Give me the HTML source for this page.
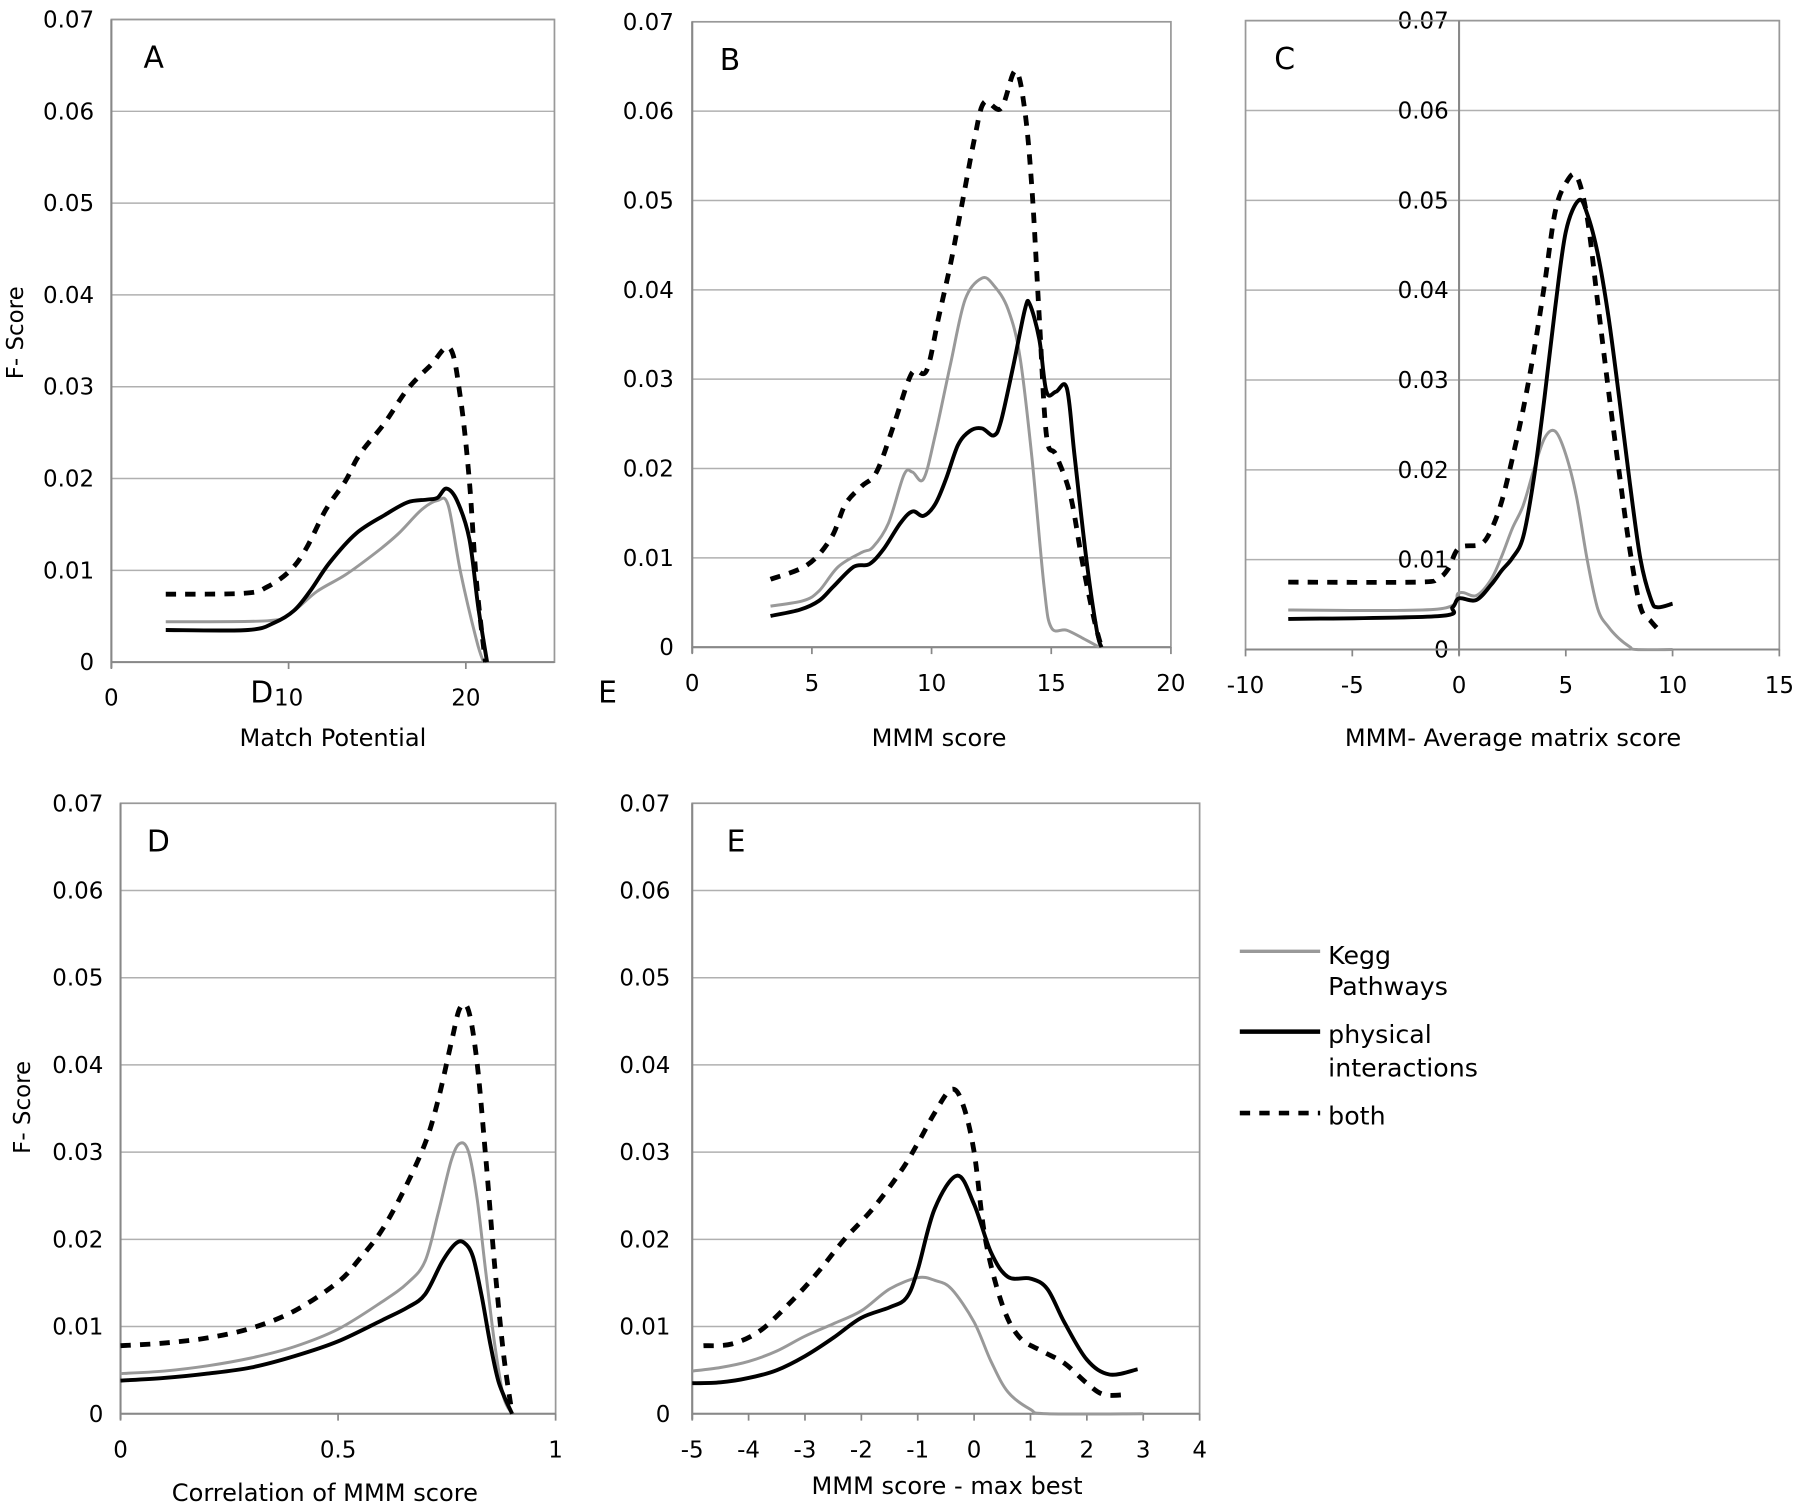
<!DOCTYPE html>
<html><head><meta charset="utf-8"><style>
html,body{margin:0;padding:0;background:#fff;}
svg{display:block;font-family:"DejaVu Sans","Liberation Sans",sans-serif;}
</style></head><body>
<svg id="fig" width="1800" height="1509" viewBox="0 0 1568 1315" preserveAspectRatio="none" xmlns="http://www.w3.org/2000/svg">
<rect width="1568" height="1315" fill="#fff"/>
<g>
<line x1="1080" y1="829" x2="1150" y2="829" stroke="#999" stroke-width="3"/>
<text x="1157" y="840" font-size="22">Kegg</text>
<text x="1157" y="867" font-size="22">Pathways</text>
<line x1="1080" y1="899" x2="1150" y2="899" stroke="#000" stroke-width="4"/>
<text x="1157" y="909" font-size="22">physical</text>
<text x="1157" y="938" font-size="22">interactions</text>
<line x1="1080" y1="970" x2="1150" y2="970" stroke="#000" stroke-width="4" stroke-dasharray="9 8"/>
<text x="1157" y="980" font-size="22">both</text>
</g>
<text x="218" y="612" font-size="26">D</text>
<text x="521" y="612" font-size="26">E</text>
</svg>
<script>
// ---- data ----
const yTicks = [0,0.01,0.02,0.03,0.04,0.05,0.06,0.07];
const yTickLabels = ["0","0.01","0.02","0.03","0.04","0.05","0.06","0.07"];

const aXTicks = [0,10,20];
const aGrayX = [3.07,8.8,10.1,11.6,13.2,14.9,16.2,17.5,18.4,19.0,19.7,20.6,21.0];
const aGrayY = [0.0044,0.0045,0.0053,0.0077,0.0095,0.0119,0.014,0.0166,0.0176,0.0171,0.0098,0.0024,0];
const aBlackX = [3.07,7.7,9.2,10.3,11.2,12.3,13.8,15.4,16.7,17.8,18.4,18.9,19.5,20.2,20.7,21.2];
const aBlackY = [0.0035,0.0035,0.0043,0.0056,0.0077,0.0108,0.014,0.016,0.0174,0.0177,0.0179,0.0189,0.0176,0.0134,0.006,0];
const aBothX = [3.07,7.5,8.8,10.1,11.0,12.1,13.2,14.0,15.4,16.7,18.0,19.1,19.7,20.2,20.6,21.1];
const aBothY = [0.0074,0.0075,0.0082,0.010,0.0124,0.0166,0.0197,0.0226,0.026,0.0297,0.0323,0.0342,0.0287,0.0197,0.0087,0];

const bXTicks = [0,5,10,15,20];
const bGrayX = [3.27,4.64,5.3,6.1,7.07,7.55,8.2,8.85,9.2,9.66,10.15,10.8,11.4,12.1,12.6,13.2,13.7,14.2,14.7,15.0,15.65,16.46,17.0];
const bGrayY = [0.0046,0.0052,0.0063,0.009,0.0106,0.0112,0.0139,0.0193,0.0196,0.0188,0.0237,0.0318,0.0389,0.0413,0.0405,0.0378,0.0324,0.021,0.0068,0.0022,0.0019,0.0008,0];
const bBlackX = [3.27,4.5,5.3,5.9,6.75,7.4,8.0,8.7,9.2,9.66,10.15,10.6,11.1,11.6,12.1,12.6,12.9,13.4,13.9,14.1,14.5,14.8,15.2,15.65,15.97,16.46,16.9,17.1];
const bBlackY = [0.0035,0.0042,0.0052,0.0068,0.009,0.0093,0.011,0.0139,0.0152,0.0147,0.016,0.0188,0.0226,0.0242,0.0245,0.0237,0.0253,0.0313,0.0378,0.0384,0.0345,0.0286,0.0286,0.029,0.0215,0.010,0.0019,0];
const bBothX = [3.27,4.8,5.8,6.4,7.07,7.7,8.4,9.0,9.3,9.8,10.3,10.8,11.3,11.8,12.2,12.9,13.5,13.9,14.2,14.5,14.8,15.2,15.8,16.3,16.8,17.1];
const bBothY = [0.0076,0.0092,0.0122,0.016,0.018,0.0196,0.0247,0.0296,0.031,0.031,0.037,0.043,0.050,0.057,0.061,0.0603,0.0645,0.060,0.051,0.037,0.0237,0.0215,0.017,0.0095,0.003,0];

const cXTicks = [-10,-5,0,5,10,15];
const cGrayX = [-8,-1,0,0.8,1.5,2,2.5,3,3.5,4,4.5,5,5.5,6,6.5,7,7.5,8,8.3,10];
const cGrayY = [0.0044,0.0045,0.0063,0.006,0.0078,0.0104,0.0135,0.016,0.020,0.0235,0.0243,0.0217,0.017,0.010,0.0045,0.0025,0.0012,0.0003,0,0];
const cBlackX = [-8,-1,-0.3,0,0.8,1.5,2,2.5,3,3.5,4,4.5,5,5.6,6,6.5,7,7.5,8,8.5,9,9.3,10];
const cBlackY = [0.0034,0.0037,0.0047,0.0057,0.0055,0.0072,0.0088,0.0102,0.0125,0.019,0.028,0.038,0.0465,0.050,0.0485,0.044,0.037,0.028,0.0185,0.010,0.0055,0.0047,0.0051];
const cBothX = [-8,-2,-1,-0.5,0,1,1.5,2,2.5,3,3.5,4,4.5,5,5.5,6,6.5,7,7.5,8,8.5,9,9.5];
const cBothY = [0.0075,0.0075,0.0079,0.009,0.0113,0.0117,0.0133,0.0165,0.0213,0.0267,0.0331,0.0406,0.0487,0.0519,0.0527,0.0481,0.0385,0.0288,0.0197,0.0111,0.0047,0.0031,0.0018];

const dXTicks = [0,0.5,1];
const dGrayX = [0,0.1,0.2,0.3,0.4,0.5,0.6,0.66,0.7,0.73,0.76,0.78,0.8,0.82,0.84,0.86,0.88,0.9];
const dGrayY = [0.0046,0.0049,0.0055,0.0064,0.0077,0.0097,0.0128,0.015,0.0175,0.023,0.029,0.031,0.030,0.0245,0.016,0.008,0.002,0];
const dBlackX = [0,0.1,0.2,0.3,0.4,0.5,0.6,0.66,0.7,0.74,0.77,0.79,0.81,0.83,0.85,0.87,0.9];
const dBlackY = [0.0038,0.0041,0.0046,0.0053,0.0066,0.0083,0.0107,0.0122,0.0137,0.0175,0.0195,0.0196,0.018,0.0135,0.008,0.0035,0];
const dBothX = [0,0.1,0.2,0.3,0.4,0.5,0.55,0.6,0.65,0.7,0.73,0.76,0.78,0.8,0.82,0.84,0.86,0.88,0.9];
const dBothY = [0.0078,0.0081,0.0087,0.0098,0.0118,0.0151,0.0178,0.021,0.0255,0.031,0.036,0.0425,0.0465,0.0462,0.040,0.029,0.017,0.007,0];

const eXTicks = [-5,-4,-3,-2,-1,0,1,2,3,4];
const eGrayX = [-5,-4.5,-4,-3.5,-3,-2.5,-2,-1.5,-1,-0.7,-0.4,0,0.3,0.6,1,1.3,3];
const eGrayY = [0.0049,0.0053,0.006,0.0072,0.0089,0.0103,0.0118,0.0143,0.0156,0.0153,0.0143,0.0105,0.006,0.0025,0.0005,0,0];
const eBlackX = [-5,-4.5,-4,-3.5,-3,-2.5,-2,-1.5,-1.2,-1,-0.7,-0.3,0,0.3,0.6,1,1.3,1.6,2,2.4,2.9];
const eBlackY = [0.0035,0.0036,0.0041,0.005,0.0066,0.0087,0.011,0.0122,0.0133,0.0165,0.0235,0.0273,0.024,0.0185,0.0157,0.0155,0.0143,0.0105,0.0062,0.0045,0.0051];
const eBothX = [-4.8,-4.3,-3.8,-3.3,-2.8,-2.3,-1.8,-1.3,-1,-0.7,-0.4,-0.2,0,0.2,0.5,0.8,1.2,1.6,2,2.3,2.7];
const eBothY = [0.0078,0.008,0.0095,0.0125,0.016,0.020,0.0235,0.0278,0.031,0.0345,0.0372,0.0355,0.030,0.020,0.0125,0.0088,0.0072,0.0058,0.0035,0.0022,0.0022];

// ---- drawing ----
const NS = "http://www.w3.org/2000/svg";
const svg = document.getElementById('fig');
function mk(tag, attrs, parent){ const e=document.createElementNS(NS,tag); for(const k in attrs) e.setAttribute(k,attrs[k]); (parent||svg).appendChild(e); return e; }

function smoothPath(pts){
  let d = `M${pts[0][0].toFixed(1)},${pts[0][1].toFixed(1)}`;
  for(let i=0;i<pts.length-1;i++){
    const p0=pts[Math.max(0,i-1)], p1=pts[i], p2=pts[i+1], p3=pts[Math.min(pts.length-1,i+2)];
    const c1=[p1[0]+(p2[0]-p0[0])/6, p1[1]+(p2[1]-p0[1])/6];
    const c2=[p2[0]-(p3[0]-p1[0])/6, p2[1]-(p3[1]-p1[1])/6];
    d += ` C${c1[0].toFixed(1)},${c1[1].toFixed(1)} ${c2[0].toFixed(1)},${c2[1].toFixed(1)} ${p2[0].toFixed(1)},${p2[1].toFixed(1)}`;
  }
  return d;
}

function panel(cfg){
  const g = mk('g',{});
  
  
  const xs = v => cfg.L + (v-cfg.xmin)/(cfg.xmax-cfg.xmin)*(cfg.R-cfg.L);
  const ys = v => cfg.B - v/0.07*(cfg.B-cfg.T);
  yTicks.forEach((t,i)=>{
    const y=ys(t);
    if(t>0){
      const gl = mk('line',{x1:cfg.L,x2:cfg.R,y1:y,y2:y,stroke:'#b0b0b0','stroke-width':1.3},g);
      
      
    }
    const tl = mk('text',{x:cfg.yLabX,y:y+7,'font-size':20,'text-anchor':'end'},g);
    tl.textContent = yTickLabels[i];
    
    
  });
  mk('rect',{x:cfg.L,y:cfg.T,width:cfg.R-cfg.L,height:cfg.B-cfg.T,fill:'none',stroke:'#999','stroke-width':1.5},g);
  const yax = mk('line',{x1:xs(cfg.yAxisAt),x2:xs(cfg.yAxisAt),y1:cfg.T,y2:cfg.B+5,stroke:'#888','stroke-width':1.8},g);
  
  
  const xax = mk('line',{x1:cfg.L,x2:cfg.R,y1:cfg.B,y2:cfg.B,stroke:'#888','stroke-width':1.8},g);
  
  
  cfg.xTicks.forEach(t=>{
    const x=xs(t);
    mk('line',{x1:x,x2:x,y1:cfg.B,y2:cfg.B+6,stroke:'#888','stroke-width':1.5},g);
    const tl = mk('text',{x:x,y:cfg.B+38,'font-size':20,'text-anchor':'middle'},g);
    tl.textContent = String(t);
    
    
  });
  const xt = mk('text',{x:cfg.xTitleX,y:cfg.xTitleY,'font-size':21,'text-anchor':'middle'},g);
  xt.textContent = cfg.xTitle;
  
  
  const lt = mk('text',{x:cfg.letterX,y:cfg.T+42,'font-size':26},g);
  lt.textContent = cfg.id.toUpperCase();
  
  
  if(cfg.yTitle){
    const yt = mk('text',{x:0,y:0,'font-size':20,'text-anchor':'middle',transform:`translate(${cfg.yTitleX},${cfg.yTitleY}) rotate(-90)`},g);
    yt.textContent = 'F- Score';
    
    
  }
  const series = [
    [cfg.gx,cfg.gy,'#999',2.6,null,'kegg-line'],
    [cfg.bx,cfg.by,'#000',3.4,null,'physical-line'],
    [cfg.dx,cfg.dy,'#000',4.2,'9 8','both-line']
  ];
  series.forEach(s=>{
    const pts = s[0].map((x,i)=>[xs(x),ys(s[1][i])]);
    const p = mk('path',{d:smoothPath(pts),fill:'none',stroke:s[2],'stroke-width':s[3],'stroke-linejoin':'round'},g);
    if(s[4]) p.setAttribute('stroke-dasharray',s[4]);
    
    
  });
}

panel({id:'a',L:97,R:483,T:17,B:577,xmin:0,xmax:25,yAxisAt:0,xTicks:aXTicks,yLabX:82,xTitle:'Match Potential',xTitleX:290,xTitleY:650,letterX:125,yTitle:true,yTitleX:20,yTitleY:290,
  gx:aGrayX,gy:aGrayY,bx:aBlackX,by:aBlackY,dx:aBothX,dy:aBothY});
panel({id:'b',L:603,R:1020,T:19,B:564,xmin:0,xmax:20,yAxisAt:0,xTicks:bXTicks,yLabX:587,xTitle:'MMM score',xTitleX:818,xTitleY:650,letterX:627,
  gx:bGrayX,gy:bGrayY,bx:bBlackX,by:bBlackY,dx:bBothX,dy:bBothY});
panel({id:'c',L:1085,R:1550,T:18,B:566,xmin:-10,xmax:15,yAxisAt:0,xTicks:cXTicks,yLabX:1262,xTitle:'MMM- Average matrix score',xTitleX:1318,xTitleY:650,letterX:1110,
  gx:cGrayX,gy:cGrayY,bx:cBlackX,by:cBlackY,dx:cBothX,dy:cBothY});
panel({id:'d',L:105,R:484,T:700,B:1232,xmin:0,xmax:1,yAxisAt:0,xTicks:dXTicks,yLabX:90,xTitle:'Correlation of MMM score',xTitleX:283,xTitleY:1308,letterX:128,yTitle:true,yTitleX:26,yTitleY:965,
  gx:dGrayX,gy:dGrayY,bx:dBlackX,by:dBlackY,dx:dBothX,dy:dBothY});
panel({id:'e',L:603,R:1045,T:700,B:1232,xmin:-5,xmax:4,yAxisAt:-5,xTicks:eXTicks,yLabX:584,xTitle:'MMM score - max best',xTitleX:825,xTitleY:1302,letterX:633,
  gx:eGrayX,gy:eGrayY,bx:eBlackX,by:eBlackY,dx:eBothX,dy:eBothY});
</script>
</body></html>
